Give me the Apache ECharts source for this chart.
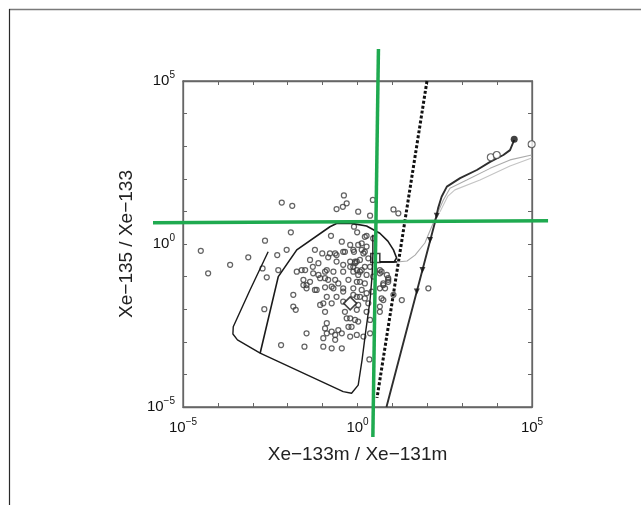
<!DOCTYPE html>
<html>
<head>
<meta charset="utf-8">
<script src="https://cdn.jsdelivr.net/npm/echarts@6/dist/echarts.min.js"></script>
<style>
  html, body { margin: 0; padding: 0; background: #fff; }
  #chart { width: 641px; height: 505px; }
</style>
</head>
<body>
<div id="chart"></div>
<script>
// All coordinates below are log10 exponents: [log10(Xe-133m/Xe-131m), log10(Xe-135/Xe-133)]

// Decade ticks; labels only every fifth decade
const tickExponents = [-5, 0, 5];

// Measured samples
const samples = [
  [-2.17, 1.27], [-1.87, 1.17], [-0.39, 1.49], [-0.60, 1.07], [-0.42, 1.14], [-0.31, 1.25],
  [0.02, 0.99], [0.44, 1.35], [0.36, 0.87], [1.03, 1.06], [1.17, 0.94], [-1.91, 0.36],
  [-0.76, 0.25], [-0.10, 0.53], [-0.01, 0.36], [0.26, 0.25], [0.45, 0.17], [0.12, 0.02],
  [-0.12, -0.18], [0.21, -0.24], [-0.02, -0.54], [-0.12, -0.70], [0.21, -0.70], [0.07, -0.85],
  [0.69, -0.85], [0.88, -1.05], [0.74, -1.26], [1.03, -1.56], [1.27, -1.72], [0.74, -1.72],
  [0.64, -2.08], [0.36, -2.74], [0.17, -2.84], [-0.02, -2.79], [0.34, -3.54], [2.03, -1.36],
  [-4.49, -0.21], [-4.28, -0.90], [-3.65, -0.64], [-3.13, -0.41], [-2.65, 0.10], [-2.72, -0.75],
  [-2.60, -1.02], [-2.67, -2.00], [-2.30, -0.34], [-2.27, -0.80], [-2.03, -0.18], [-2.19, -3.10],
  [-1.52, -3.15], [-0.98, -3.15], [-0.74, -3.20], [-0.45, -3.20], [-1.84, -1.56], [-1.84, -1.92],
  [-1.77, -2.02], [-1.74, -0.85], [-1.60, -0.80], [-1.55, -1.26], [-1.46, -1.26], [-1.36, -0.49],
  [-1.22, -0.18], [-1.17, -1.41], [-1.12, -0.95], [-1.28, -0.70], [-1.01, -0.29], [-0.79, -0.29],
  [-0.93, -1.05], [-0.88, -0.80], [-0.98, -1.82], [-0.74, -1.82], [-0.74, -1.31], [-0.64, -1.10],
  [-0.60, -0.34], [-0.55, -1.21], [-0.45, 0.07], [-0.41, -0.24], [-0.41, -0.85], [-0.41, -1.46],
  [-0.21, -0.03], [-0.10, -0.24], [-0.07, -0.54], [-0.21, -0.70], [-0.02, -0.80], [0.02, -0.95],
  [0.07, -1.16], [0.21, -1.21], [-0.12, -1.56], [0.07, -1.62], [0.26, -1.51], [0.31, -1.82],
  [-0.02, -2.02], [-0.21, -2.28], [0.02, -2.38], [-0.26, -2.54], [-0.88, -2.43], [-0.93, -2.59],
  [-0.88, -2.74], [-0.74, -2.69], [-0.64, -2.79], [-0.55, -2.64], [-0.45, -2.74], [-0.21, -2.84],
  [-0.64, -2.94], [-0.98, -2.89], [-1.46, -2.74], [0.21, 0.22], [0.26, -0.08], [0.07, -0.49],
  [0.36, -0.70], [0.64, -0.90], [0.74, -1.21], [0.88, -1.10], [0.79, -1.36],
  [0.02, -0.03], [0.12, -0.18], [-0.84, -0.41], [-0.64, -0.29], [-0.36, -0.24], [0.17, -0.29],
  [0.31, -0.44], [-0.60, -0.54], [-0.41, -0.64], [-0.21, -0.54], [-0.07, -0.59], [-1.12, -0.59],
  [-1.50, -0.80], [-1.27, -0.90], [-0.93, -0.85], [-0.69, -0.85], [-0.12, -0.85], [0.12, -0.80],
  [0.26, -0.95], [0.45, -1.00], [0.64, -0.80], [0.84, -0.95], [0.88, -1.16], [-1.55, -1.10],
  [-1.36, -1.16], [-1.07, -1.05], [-0.84, -1.10], [-0.26, -1.10], [-0.02, -1.16], [-1.46, -1.36],
  [-1.22, -1.41], [-0.93, -1.33], [-0.69, -1.36], [-0.41, -1.36], [-0.12, -1.36], [0.12, -1.41],
  [0.41, -1.46], [0.64, -1.36], [0.69, -1.67], [-0.88, -1.62], [-0.60, -1.62], [-0.02, -1.62],
  [0.21, -1.67], [-1.07, -1.87], [-0.41, -1.77], [0.02, -1.87], [0.64, -1.92], [-0.93, -2.08],
  [-0.36, -2.08], [0.26, -2.08], [-0.31, -2.28], [-0.07, -2.33], [0.36, -2.33], [-0.17, -2.54]
];

// Reactor domain: outer boundary
const domainOuter = [
  [-2.56, -0.24], [-3.08, -1.41], [-3.56, -2.54], [-3.57, -2.76], [-3.44, -2.94], [-2.79, -3.35],
  [-0.41, -4.53], [-0.17, -4.58], [0.02, -4.33], [0.13, -3.56], [0.24, -2.64], [0.36, -1.72],
  [0.42, -0.95], [0.44, -0.34], [0.44, 0.28]
];
// Reactor domain: inner branch and upper arc
const domainInner = [
  [-2.79, -3.35], [-2.27, -1.00], [-1.74, -0.18], [-0.79, 0.53], [-0.60, 0.63], [-0.21, 0.64],
  [0.26, 0.55], [0.64, 0.33], [0.87, 0.09], [1.03, -0.18], [1.12, -0.43], [1.05, -0.55], [0.64, -0.55]
];
const domainLink = [[0.64, -0.55], [1.13, -0.55]];

// Separation line (dotted)
const separationLine = [[1.99, 5.00], [0.56, -4.72]];

// Explosion evolution (black)
const explosionLine = [
  [0.83, -5.00], [2.22, 0.67], [2.31, 1.10], [2.41, 1.45], [2.56, 1.76], [2.94, 2.02],
  [3.42, 2.27], [3.80, 2.52], [4.18, 2.73], [4.37, 2.88], [4.49, 3.19]
];
// Explosion variants (grey)
const explosionGreyA = [
  [1.13, -0.55], [1.42, -0.52], [1.65, -0.34], [1.93, 0.03], [2.11, 0.49], [2.29, 0.94],
  [2.46, 1.35], [2.65, 1.71], [3.13, 1.96], [3.80, 2.32], [4.37, 2.58], [4.99, 2.73]
];
const explosionGreyB = [
  [2.36, 0.98], [2.59, 1.47], [2.79, 1.66], [3.51, 1.96], [4.37, 2.39], [4.99, 2.64]
];
// Time markers on the explosion line
const explosionMarks = [[2.27, 0.87], [2.08, 0.12], [1.86, -0.80], [1.70, -1.46]];
const startFilled = [[4.49, 3.21]];
const startOpen = [[3.82, 2.66], [3.99, 2.73], [4.99, 3.06]];
const domainSquare = [[0.51, -0.43]];
const domainDiamond = [[-0.21, -1.82]];

// Screening thresholds: [x0, y0, x1, y1]
const thresholds = [
  [0.60, 5.98, 0.44, -5.92],
  [-5.86, 0.65, 5.46, 0.71]
];

const pow10 = e => Math.pow(10, e);
const toValues = pts => pts.map(p => p.map(pow10));

const FONT = 'Liberation Sans, Arial, Helvetica, sans-serif';
const GREEN = '#1faa50';

function powLabel(v) {
  const e = Math.round(Math.log10(v));
  if (tickExponents.indexOf(e) < 0) return '';
  return '{b|10}{s|' + (e < 0 ? '\u2212' : '') + Math.abs(e) + '}';
}
const labelRich = {
  b: { fontSize: 15, lineHeight: 22, fontFamily: FONT, color: '#111' },
  s: { fontSize: 10, lineHeight: 10, verticalAlign: 'top', fontFamily: FONT, color: '#111' }
};

function logAxis(extra) {
  return Object.assign({
    type: 'log', logBase: 10, min: 1e-5, max: 1e5, interval: 1,
    axisLine: { show: true, lineStyle: { color: '#666', width: 1.3 } },
    axisTick: { show: true, inside: true, length: 4, lineStyle: { color: '#666', width: 1 } },
    splitLine: { show: false },
    axisLabel: { show: true, formatter: powLabel, rich: labelRich, showMinLabel: true, showMaxLabel: true }
  }, extra);
}

const lineSeries = (data, color, width, type) => ({
  type: 'line', data: toValues(data), showSymbol: false, symbol: 'none', clip: false, silent: true,
  lineStyle: { color: color, width: width, type: type || 'solid' }, z: 3
});

const chart = echarts.init(document.getElementById('chart'), null, { renderer: 'canvas' });
chart.setOption({
  animation: false,
  backgroundColor: '#ffffff',
  grid: { left: 183, top: 81, width: 349, height: 326, show: true, borderColor: '#666', borderWidth: 1.3, containLabel: false },
  xAxis: [
    logAxis({
      position: 'bottom',
      name: 'Xe\u2212133m / Xe\u2212131m', nameLocation: 'middle', nameGap: 38,
      nameTextStyle: { fontSize: 19, fontFamily: FONT, color: '#222' },
      axisLabel: { show: true, formatter: powLabel, rich: labelRich, margin: 10, showMinLabel: true, showMaxLabel: true }
    }),
    logAxis({ position: 'top', axisLabel: { show: false } })
  ],
  yAxis: [
    logAxis({
      position: 'left',
      name: 'Xe\u2212135 / Xe\u2212133', nameLocation: 'middle', nameGap: 44,
      nameTextStyle: { fontSize: 19, fontFamily: FONT, color: '#222' },
      axisLabel: { show: true, formatter: powLabel, rich: labelRich, margin: 8, showMinLabel: true, showMaxLabel: true }
    }),
    logAxis({ position: 'right', axisLabel: { show: false } })
  ],
  graphic: [
    { type: 'line', shape: { x1: 9, y1: 9.5, x2: 641, y2: 9.5 }, style: { stroke: '#7a7a7a', lineWidth: 1.5 }, silent: true },
    { type: 'line', shape: { x1: 9.5, y1: 9, x2: 9.5, y2: 505 }, style: { stroke: '#2a2a2a', lineWidth: 1.2 }, silent: true }
  ],
  series: [
    {
      type: 'scatter', data: toValues(samples), symbol: 'circle', symbolSize: 5, silent: true,
      itemStyle: { color: 'rgba(255,255,255,0)', borderColor: '#3c3c3c', borderWidth: 1.25 }, z: 2
    },
    lineSeries(domainOuter, '#1a1a1a', 1.4),
    lineSeries(domainInner, '#1a1a1a', 1.6),
    lineSeries(domainLink, '#1a1a1a', 1.8),
    lineSeries(separationLine, '#111', 3, [3, 2]),
    lineSeries(explosionGreyA, '#aaaaaa', 1.1),
    lineSeries(explosionGreyB, '#c4c4c4', 1.1),
    lineSeries(explosionLine, '#2e2e2e', 1.9),
    {
      type: 'scatter', data: toValues(explosionMarks), symbol: 'triangle', symbolRotate: 180, symbolSize: 6,
      itemStyle: { color: '#111' }, silent: true, z: 4
    },
    {
      type: 'scatter', data: toValues(startFilled), symbol: 'circle', symbolSize: 7,
      itemStyle: { color: '#111' }, silent: true, z: 4
    },
    {
      type: 'scatter', data: toValues(startOpen), symbol: 'circle', symbolSize: 7, clip: false,
      itemStyle: { color: '#fff', borderColor: '#444', borderWidth: 1.1 }, silent: true, z: 4
    },
    {
      type: 'scatter', data: toValues(domainSquare), symbol: 'rect', symbolSize: 9,
      itemStyle: { color: 'rgba(255,255,255,0)', borderColor: '#111', borderWidth: 1.6 }, silent: true, z: 4
    },
    {
      type: 'scatter', data: toValues(domainDiamond), symbol: 'diamond', symbolSize: 13,
      itemStyle: { color: '#fff', borderColor: '#111', borderWidth: 1.6 }, silent: true, z: 4
    },
    {
      type: 'custom', coordinateSystem: 'cartesian2d', clip: false, silent: true, z: 6,
      data: toValues(thresholds),
      encode: { x: [0, 2], y: [1, 3] },
      renderItem: function (params, api) {
        const a = api.coord([api.value(0), api.value(1)]);
        const b = api.coord([api.value(2), api.value(3)]);
        return {
          type: 'line',
          shape: { x1: a[0], y1: a[1], x2: b[0], y2: b[1] },
          style: { stroke: GREEN, lineWidth: 3.5 }
        };
      }
    }
  ]
});
</script>
</body>
</html>
